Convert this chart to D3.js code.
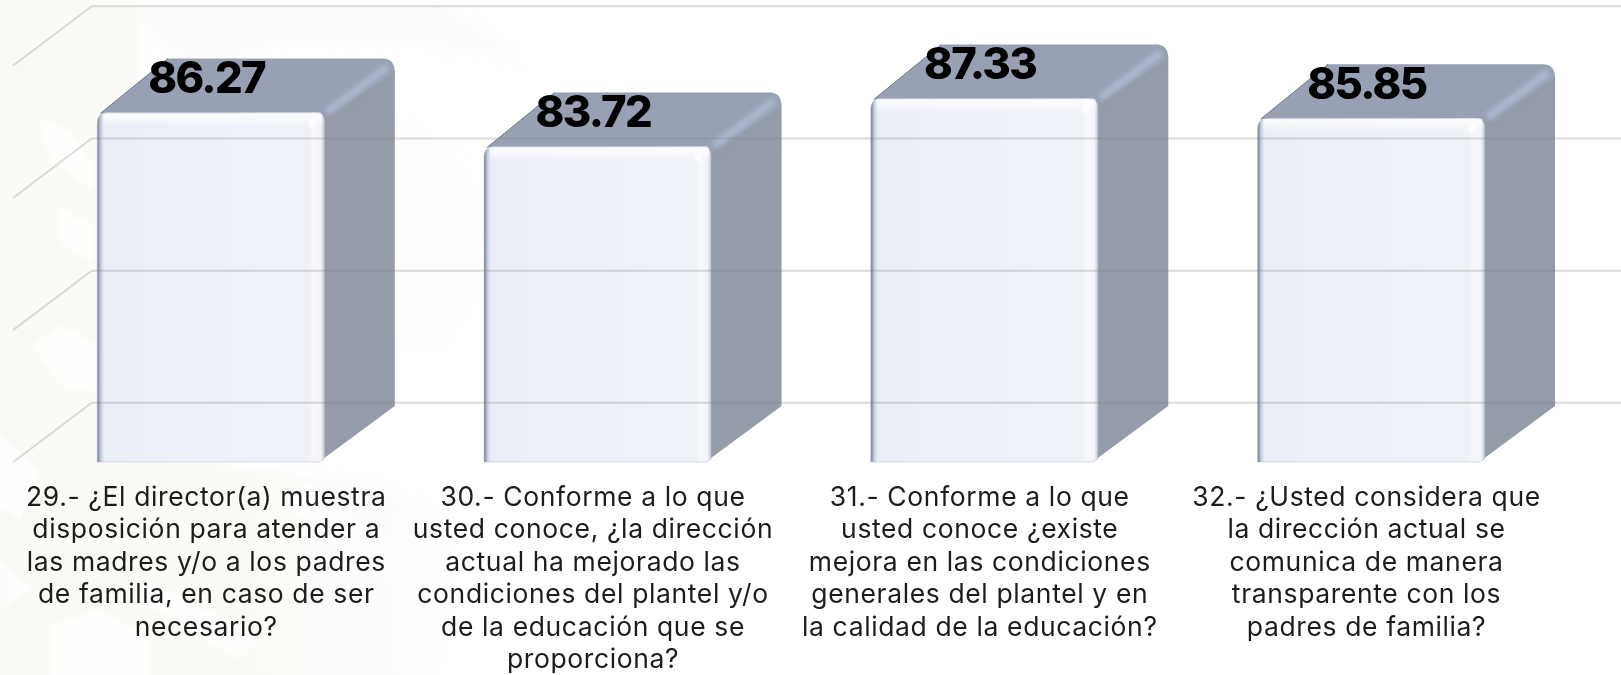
<!DOCTYPE html>
<html><head><meta charset="utf-8">
<style>html,body{margin:0;padding:0;background:#fff;overflow:hidden}svg{display:block}</style>
<script src="https://cdn.jsdelivr.net/npm/d3@7/dist/d3.min.js"></script>
</head><body><svg id="c" width="1621" height="675"></svg>
<script>
const categories = ["29","30","31","32"];
const values = [86.27,83.72,87.33,85.85];
const gridTicks = [60,70,80,90];
const labelLines = [
 ["29.- ¿El director(a) muestra","disposición para atender a","las madres y/o a los padres","de familia, en caso de ser","necesario?"],
 ["30.- Conforme a lo que","usted conoce, ¿la dirección","actual ha mejorado las","condiciones del plantel y/o","de la educación que se","proporciona?"],
 ["31.- Conforme a lo que","usted conoce ¿existe","mejora en las condiciones","generales del plantel y en","la calidad de la educación?"],
 ["32.- ¿Usted considera que","la dirección actual se","comunica de manera","transparente con los","padres de familia?"]
];

const W=1621,H=675,floorY=462,dx=70.5,dy=54,r=12;
const svg=d3.select("#c");
const x=d3.scaleBand().domain(categories).range([17.4,1564.4]).paddingInner(.413).paddingOuter(.2065);
const y=d3.scaleLinear().domain([60,90]).range([floorY,63]);
const yBack=d3.scaleLinear().domain([60,90]).range([402.8,6.3]);

const defs=svg.append("defs");
function grad(id,attrs,stops){const g=defs.append("linearGradient").attr("id",id).attr("x1",attrs[0]).attr("y1",attrs[1]).attr("x2",attrs[2]).attr("y2",attrs[3]);
 stops.forEach(s=>g.append("stop").attr("offset",s[0]).attr("stop-color",s[1]).attr("stop-opacity",s[2]==null?1:s[2]));}
grad("fh",[0,0,1,0],[[0,"#7d879b"],[.006,"#8f99ad"],[.016,"#c9d0de"],[.03,"#e9edf6"],[.3,"#ecf0f8"],[.6,"#edf1f9"],[.93,"#eff1f7"],[.955,"#f6f8fc"],[.985,"#f2f4fa"],[1,"#c2c8d4"]]);
grad("fv",[0,0,0,1],[[0,"#fff",.85],[.45,"#fff",.55],[1,"#fff",0]]);
grad("wmg",[0,0,1,0],[[0,"#faf9f5"],[.55,"#fbfaf7"],[1,"#fefefd"]]);
function blur(id,s){defs.append("filter").attr("id",id).attr("x","-50%").attr("y","-50%").attr("width","200%").attr("height","200%").append("feGaussianBlur").attr("stdDeviation",s);}
blur("b2",2);blur("b1",1.2);blur("b04",.45);blur("b6",5);

// watermark
const wm=svg.append("g");
wm.append("path").attr("fill","url(#wmg)").attr("filter","url(#b6)").attr("d","M-10 -10H135C150 60 130 120 120 220C115 320 140 420 210 462C300 480 400 470 450 530C465 590 450 640 430 685H-10Z");
wm.append("path").attr("fill","#fdfcfa").attr("filter","url(#b6)").attr("d","M130 -10H420L520 60C450 40 300 30 250 50C200 70 150 60 130 -10Z");
wm.append("path").attr("fill","#fefdfc").attr("filter","url(#b6)").attr("d","M400 120C470 150 500 230 470 300C450 340 420 350 400 340Z");
const st=wm.append("g").attr("fill","#fff").attr("opacity",.8).attr("filter","url(#b1)");
["M38 118L70 130L92 165L92 190L50 160Z","M60 210L92 225L92 262L62 245Z","M32 345L60 325L97 345L97 392L60 385Z","M-5 430L40 470L20 520L-5 505Z","M50 625L100 610L150 640L150 680L50 680Z","M0 560L30 590L0 610Z","M300 480L420 560L400 590L290 510Z","M150 580L260 640L240 660L140 600Z"]
 .forEach(d=>st.append("path").attr("d",d));

// bars
const bars=svg.append("g").attr("filter","url(#b04)").selectAll("g").data(categories.map((c,i)=>({c,v:values[i]}))).join("g");
function topPath(l,w,t){const p=d3.path();p.moveTo(l+3,t+1);p.lineTo(l+dx,t-dy);p.lineTo(l+w+dx-r,t-dy);p.quadraticCurveTo(l+w+dx,t-dy,l+w+dx,t-dy+r+2);p.lineTo(l+w,t+6);p.lineTo(l+w-4,t);p.closePath();return p.toString();}
function sidePath(l,w,t){const p=d3.path();p.moveTo(l+w,t+4);p.lineTo(l+w+dx,t-dy+r);p.lineTo(l+w+dx,floorY-dy-2);p.lineTo(l+w,floorY-4);p.closePath();return p.toString();}
function frontPath(l,w,t){const p=d3.path();p.moveTo(l,floorY);p.lineTo(l,t+11);p.quadraticCurveTo(l,t,l+11,t);p.lineTo(l+w-9,t);p.quadraticCurveTo(l+w,t,l+w,t+9);p.lineTo(l+w,floorY-3);p.lineTo(l+w-5,floorY);p.closePath();return p.toString();}

bars.each(function(d,i){
 const g=d3.select(this),l=x(d.c),w=x.bandwidth(),t=y(d.v);
 g.append("path").attr("d",sidePath(l,w,t)).attr("fill","#949ba9");
 g.append("path").attr("d",topPath(l,w,t)).attr("fill","#97a1b3");
 g.append("line").attr("x1",l+3).attr("y1",t+1).attr("x2",l+dx).attr("y2",t-dy).attr("stroke","#6e7688").attr("stroke-width",1);
 g.append("line").attr("x1",l+w+3).attr("y1",t-1).attr("x2",l+w+dx-7).attr("y2",t-dy+8).attr("stroke","#aab6cc").attr("stroke-width",8).attr("filter","url(#b2)");
 g.append("path").attr("d",frontPath(l,w,t)).attr("fill","url(#fh)");
 g.append("rect").attr("x",l+6).attr("y",t+1).attr("width",w-8).attr("height",13).attr("fill","url(#fv)");
 g.append("path").attr("d",frontPath(l,w,t)).attr("fill","none").attr("stroke","#aeb6c5").attr("stroke-width",.8).attr("opacity",.55);
 g.append("ellipse").attr("cx",l+w-12).attr("cy",t+10).attr("rx",3.2).attr("ry",5.2).attr("transform",`rotate(30 ${l+w-12} ${t+10})`).attr("fill","#fff").attr("filter","url(#b1)");
});

// grid
const grid=svg.append("g").attr("stroke","rgba(125,125,125,.27)").attr("stroke-width",2).attr("fill","none");
gridTicks.forEach(v=>{
 const b=yBack(v);
 grid.append("path").attr("d",`M13 ${b+59.5}L91.7 ${b}H${W}`);
});

// values
svg.append("g").selectAll("text").data(values).join("text")
 .attr("x",(d,i)=>x(categories[i])+x.bandwidth()/2-4.2).attr("y",d=>y(d)-19.5)
 .attr("text-anchor","middle").attr("font-family","Inter").attr("font-weight",800).attr("font-size",43.5).attr("letter-spacing","-1.7px").attr("fill","#000").text(d=>d.toFixed(2));

// category labels
const lab=svg.append("g").attr("font-family","Inter").attr("font-size",26.5).attr("letter-spacing","0.62px").attr("fill","#1c1c1c").attr("text-anchor","middle");
labelLines.forEach((ls,i)=>{
 ls.forEach((s,j)=>lab.append("text").attr("x",x(categories[i])+x.bandwidth()/2-4.5).attr("y",505.7+j*32.55).text(s));
});
</script></body></html>
